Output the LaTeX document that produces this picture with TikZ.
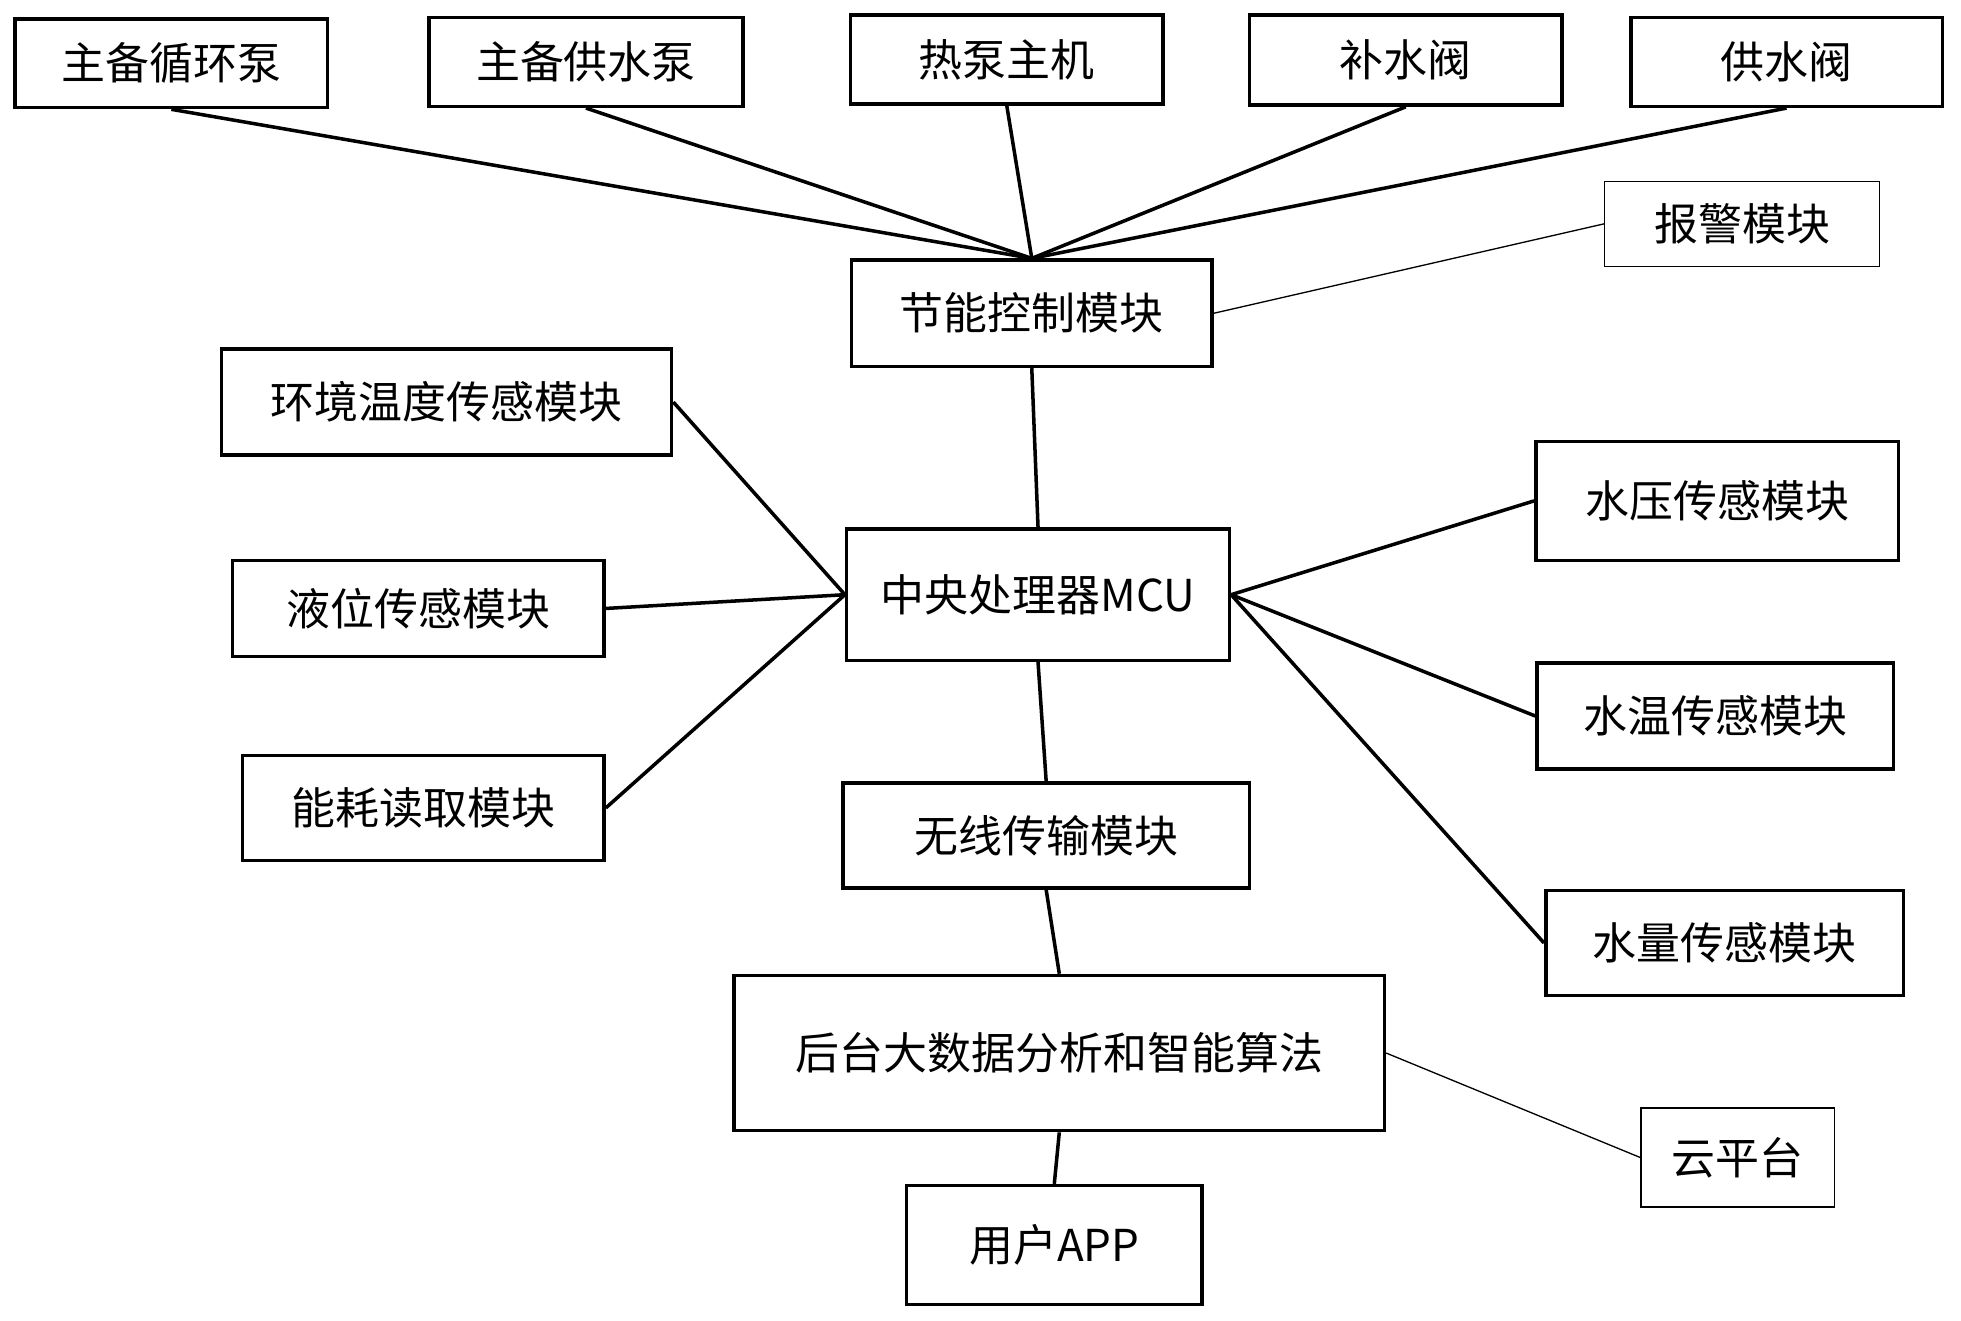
\documentclass[tikz,border=0pt]{standalone}
\usepackage{fontspec}
\setmainfont{Noto Sans CJK SC}
\tikzset{
  block/.style n args={2}{
    draw, line width=1.6pt,
    minimum width={#1*0.02cm},
    minimum height={#2*0.02cm},
    inner sep=0pt,
    font=\fontsize{20}{24}\selectfont,
  },
  thin block/.style n args={2}{
    block={#1}{#2}, line width=0.6pt,
  },
  link/.style={line width=1.6pt},
  thin link/.style={line width=0.6pt},
}
\begin{document}
\begin{tikzpicture}[x=0.02cm, y=-0.02cm]
        \useasboundingbox (0,0) rectangle (1568,1056);
        % top row
        \node [block={250}{71}] (pump1) at (137,50.5) {主备循环泵};
        \node [block={251}{71}] (pump2) at (468.5,49.5) {主备供水泵};
        \node [block={250}{71}] (heat) at (805,47.5) {热泵主机};
        \node [block={250}{72}] (refill) at (1124,48) {补水阀};
        \node [block={249}{71}] (supply) at (1428.5,49.5) {供水阀};
        \node [thin block={220}{68}] (alarm) at (1393,179) {报警模块};
        \node [block={288}{85}] (save) at (825,250.5) {节能控制模块};

        % sensors
        \node [block={360}{85}] (env) at (357,321.5) {环境温度传感模块};
        \node [block={297}{77}] (level) at (334.5,486.5) {液位传感模块};
        \node [block={289}{84}] (energy) at (338.5,646) {能耗读取模块};
        \node [block={306}{105}] (mcu) at (830,475.5) {中央处理器MCU};
        \node [block={290}{95}] (press) at (1373,400.5) {水压传感模块};
        \node [block={285}{85}] (temp) at (1371.5,572.5) {水温传感模块};
        \node [block={286}{84}] (flow) at (1379,754) {水量传感模块};

        % bottom chain
        \node [block={325}{84}] (wifi) at (836.5,668) {无线传输模块};
        \node [block={520}{124}] (data) at (847,842) {后台大数据分析和智能算法};
        \node [thin block={155}{79}] (cloud) at (1389.5,925.5) {云平台};
        \node [block={236}{95}] (app) at (843,995.5) {用户APP};

        \foreach \n in {pump1,pump2,heat,refill,supply}
            \draw [link] (\n.south) -- (save.north);
        \draw [thin link] (alarm.west) -- (save.east);
        \draw [link] (save.south) -- (mcu.north);
        \foreach \n in {env,level,energy}
            \draw [link] (\n.east) -- (mcu.west);
        \foreach \n in {press,temp,flow}
            \draw [link] (mcu.east) -- (\n.west);
        \draw [link] (mcu.south) -- (wifi.north);
        \draw [link] (wifi.south) -- (data.north);
        \draw [thin link] (data.east) -- (cloud.west);
        \draw [link] (data.south) -- (app.north);
    \end{tikzpicture}
\end{document}
